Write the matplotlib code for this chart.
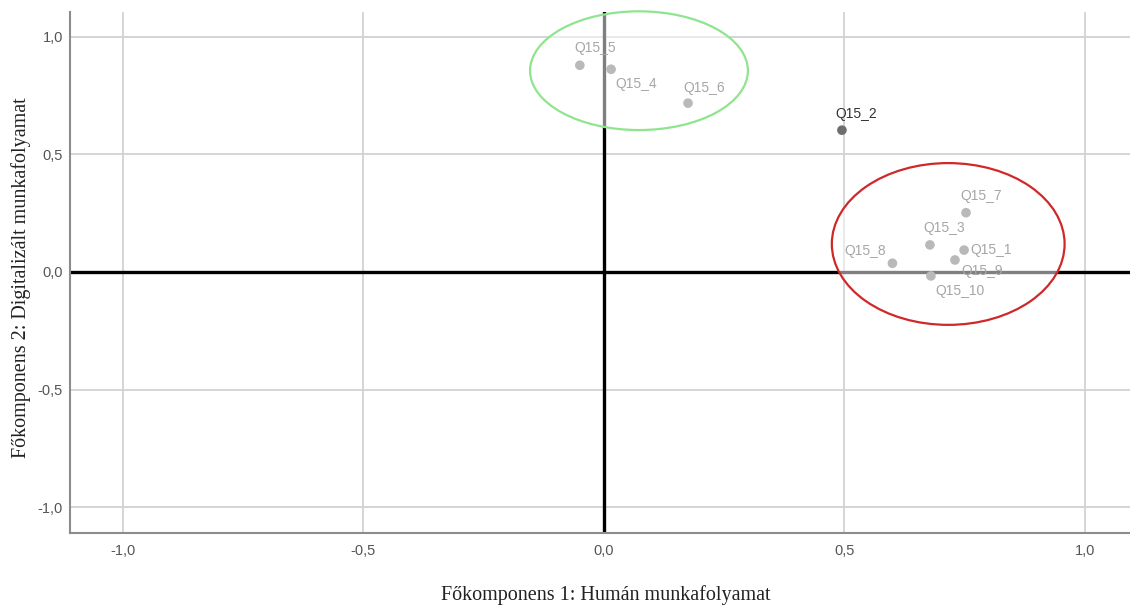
import matplotlib
matplotlib.use("Agg")
import matplotlib.pyplot as plt
from matplotlib.patches import Ellipse
from matplotlib.ticker import FuncFormatter

labels = ["Q15_1", "Q15_2", "Q15_3", "Q15_4", "Q15_5", "Q15_6", "Q15_7", "Q15_8", "Q15_9", "Q15_10"]
comp1 = [0.749, 0.495, 0.678, 0.015, -0.050, 0.175, 0.753, 0.600, 0.730, 0.680]
comp2 = [0.093, 0.603, 0.115, 0.862, 0.879, 0.718, 0.252, 0.037, 0.051, -0.017]
ticks = [-1.0, -0.5, 0.0, 0.5, 1.0]

# label offsets in pixels (dx, dy up), and horizontal alignment
offsets = {
    "Q15_1": (6, 0, "left"),
    "Q15_2": (-7, 16, "left"),
    "Q15_3": (-7, 17, "left"),
    "Q15_4": (4, -15, "left"),
    "Q15_5": (-5, 17, "left"),
    "Q15_6": (-5, 15, "left"),
    "Q15_7": (-6, 17, "left"),
    "Q15_8": (-6, 12, "right"),
    "Q15_9": (6, -11, "left"),
    "Q15_10": (4, -15, "left"),
}

fig = plt.figure(figsize=(11.3, 6.07), dpi=100)
ax = fig.add_axes([0.062, 0.122, 0.938, 0.858])
ax.set_xlim(-1.11, 1.094)
ax.set_ylim(-1.11, 1.105)

ax.set_xticks(ticks)
ax.set_yticks(ticks)
fmt = FuncFormatter(lambda v, p: f"{v:.1f}".replace(".", ","))
ax.xaxis.set_major_formatter(fmt)
ax.yaxis.set_major_formatter(fmt)
ax.tick_params(axis="x", length=0, labelsize=10.5, labelcolor="#555555", pad=8)
ax.tick_params(axis="y", length=0, labelsize=10.5, labelcolor="#555555", pad=5)
for t in ax.get_xticklabels() + ax.get_yticklabels():
    t.set_fontfamily("Liberation Sans")
ax.grid(True, color="#d2d2d2", linewidth=1.3, zorder=0)
ax.set_axisbelow(True)
for s in ["top", "right"]:
    ax.spines[s].set_visible(False)
for s in ["left", "bottom"]:
    ax.spines[s].set_color("#8c8c8c")
    ax.spines[s].set_linewidth(1.5)

ax.axhline(0, color="black", linewidth=2.4, zorder=1)
ax.axvline(0, color="black", linewidth=2.4, zorder=1)

ax.add_patch(Ellipse((0.073, 0.856), 0.453, 0.505, facecolor=(1, 1, 1, 0.5),
                     edgecolor="#8fe58f", linewidth=1.6, zorder=2, clip_on=False))
ax.add_patch(Ellipse((0.716, 0.119), 0.484, 0.688, facecolor=(1, 1, 1, 0.5),
                     edgecolor="#d02828", linewidth=1.6, zorder=2, clip_on=False))

for lab, x, y in zip(labels, comp1, comp2):
    dark = lab == "Q15_2"
    ax.scatter([x], [y], s=48, color="#6e6e6e" if dark else "#b9b9b9",
               edgecolors="none", zorder=3)
    dx, dy, ha = offsets[lab]
    ax.annotate(lab, (x, y), xytext=(dx * 0.72, dy * 0.72), textcoords="offset points",
                ha=ha, va="center", fontsize=10, family="Liberation Sans",
                color="#333333" if dark else "#a6a6a6", zorder=4)

ax.set_xlabel("Főkomponens 1: Humán munkafolyamat", family="Liberation Serif",
              fontsize=14.5, color="#222222")
ax.xaxis.set_label_coords(0.505, -0.119)
ax.xaxis.label.set_va("center")
ax.set_ylabel("Főkomponens 2: Digitalizált munkafolyamat", family="Liberation Serif",
              fontsize=14.5, color="#222222")
ax.yaxis.set_label_coords(-0.046, 0.49)
ax.yaxis.label.set_va("center")

fig.savefig("out.png", dpi=100)
